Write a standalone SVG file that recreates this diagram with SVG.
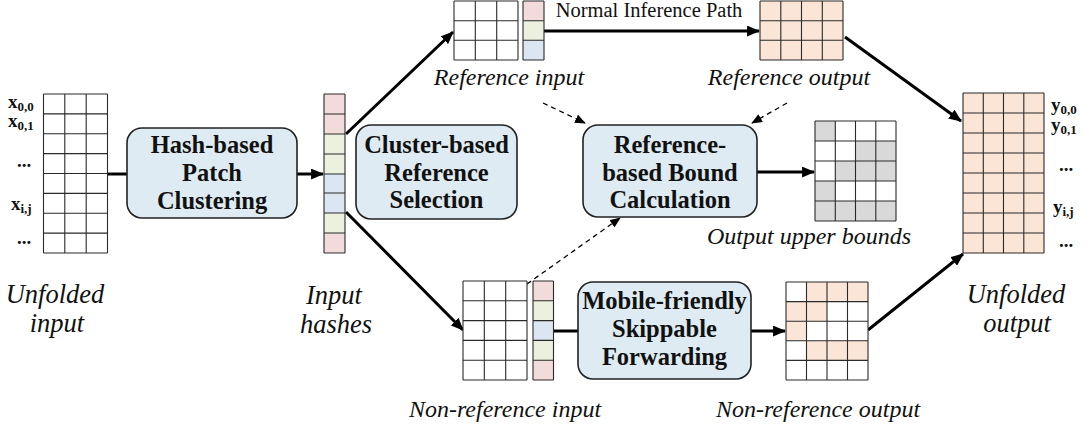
<svg xmlns="http://www.w3.org/2000/svg" width="1085" height="425" viewBox="0 0 1085 425">
  <style>
    text { font-family: "Liberation Serif", "Times New Roman", serif; fill: #111; }
    .box { fill: #deebf2; stroke: #222; stroke-width: 1.6; }
    .btxt { font-size: 24.5px; font-weight: bold; text-anchor: middle; }
    .cap { font-size: 24px; font-style: italic; text-anchor: middle; }
    .big { font-size: 26.5px; }
    .lbl { font-size: 19px; font-weight: bold; }
    .sub { font-size: 13px; }
    .grid { fill: none; stroke: #2a2a2a; stroke-width: 1.1; }
    .bg { fill: #ffffff; }
    .pink { fill: #f2dcdb; }
    .green { fill: #ebf1de; }
    .blue { fill: #dce6f2; }
    .peach { fill: #fbe5d6; }
    .gray { fill: #d9d9d9; }
    .thick { fill: none; stroke: #000; stroke-width: 3; }
    .dash { fill: none; stroke: #000; stroke-width: 1.3; stroke-dasharray: 5 4; }
  </style>
  <defs>
    <marker id="arr" viewBox="0 0 12 10" refX="11" refY="5" markerWidth="13" markerHeight="11" markerUnits="userSpaceOnUse" orient="auto">
      <path d="M0,0 L12,5 L0,10 z" fill="#000"/>
    </marker>
    <marker id="arrs" viewBox="0 0 12 10" refX="11" refY="5" markerWidth="11" markerHeight="9" markerUnits="userSpaceOnUse" orient="auto">
      <path d="M0,0 L12,5 L0,10 z" fill="#000"/>
    </marker>
  </defs>

  <!-- connectors -->
  <g id="connectors">
    <line class="thick" x1="107" y1="174" x2="127" y2="174"/>
    <line class="thick" x1="297" y1="174" x2="323" y2="174" marker-end="url(#arr)"/>
    <line class="thick" x1="346" y1="134" x2="453" y2="32" marker-end="url(#arr)"/>
    <line class="thick" x1="346" y1="212" x2="463" y2="330" marker-end="url(#arr)"/>
    <line class="thick" x1="544" y1="31" x2="759" y2="31" marker-end="url(#arr)"/>
    <line class="thick" x1="757" y1="172" x2="814" y2="172" marker-end="url(#arr)"/>
    <line class="thick" x1="553" y1="331" x2="578" y2="331"/>
    <line class="thick" x1="751" y1="331" x2="785" y2="331" marker-end="url(#arr)"/>
    <line class="thick" x1="845" y1="37" x2="961" y2="121" marker-end="url(#arr)"/>
    <line class="thick" x1="868" y1="330" x2="963" y2="254" marker-end="url(#arr)"/>
    <line class="dash" x1="543" y1="103" x2="585" y2="123" marker-end="url(#arrs)"/>
    <line class="dash" x1="787" y1="103" x2="752" y2="123" marker-end="url(#arrs)"/>
    <line class="dash" x1="527" y1="284" x2="620" y2="218" marker-end="url(#arrs)"/>
  </g>

  <!-- unfolded input -->
  <g id="unfolded-input">
    <rect class="bg" x="43.5" y="94" width="64" height="159"/>
    <path class="grid" d="M43.5,94V253M64.8,94V253M86.2,94V253M107.5,94V253M43.5,94H107.5M43.5,113.9H107.5M43.5,133.8H107.5M43.5,153.6H107.5M43.5,173.5H107.5M43.5,193.4H107.5M43.5,213.3H107.5M43.5,233.1H107.5M43.5,253H107.5"/>
    <text class="lbl" x="8" y="108">x<tspan class="sub" dy="3">0,0</tspan></text>
    <text class="lbl" x="8" y="127">x<tspan class="sub" dy="3">0,1</tspan></text>
    <text class="lbl" x="17" y="167">...</text>
    <text class="lbl" x="11" y="210">x<tspan class="sub" dy="3">i,j</tspan></text>
    <text class="lbl" x="17" y="244">...</text>
    <text class="cap big" x="55" y="303">Unfolded</text>
    <text class="cap big" x="57" y="332">input</text>
  </g>

  <!-- hash-based clustering -->
  <g id="hash-clustering">
    <rect class="box" x="127" y="128" width="170" height="90" rx="15"/>
    <text class="btxt" x="212" y="153">Hash-based</text>
    <text class="btxt" x="212" y="181">Patch</text>
    <text class="btxt" x="212" y="209">Clustering</text>
  </g>

  <!-- input hashes -->
  <g id="input-hashes">
    <rect class="pink" x="324" y="94" width="21" height="20"/>
    <rect class="pink" x="324" y="114" width="21" height="20"/>
    <rect class="green" x="324" y="134" width="21" height="20"/>
    <rect class="green" x="324" y="154" width="21" height="20"/>
    <rect class="blue" x="324" y="174" width="21" height="19"/>
    <rect class="blue" x="324" y="193" width="21" height="20"/>
    <rect class="green" x="324" y="213" width="21" height="20"/>
    <rect class="pink" x="324" y="233" width="21" height="20"/>
    <path class="grid" d="M324,94V253M345,94V253M324,94H345M324,114H345M324,134H345M324,154H345M324,174H345M324,193H345M324,213H345M324,233H345M324,253H345"/>
    <text class="cap big" x="334" y="304">Input</text>
    <text class="cap big" x="336" y="333">hashes</text>
  </g>

  <!-- cluster-based reference selection -->
  <g id="reference-selection">
    <rect class="box" x="356" y="125" width="161" height="94" rx="15"/>
    <text class="btxt" x="436.5" y="153">Cluster-based</text>
    <text class="btxt" x="436.5" y="181">Reference</text>
    <text class="btxt" x="436.5" y="208">Selection</text>
  </g>

  <!-- reference input -->
  <g id="reference-input">
    <rect class="bg" x="454" y="1" width="64" height="59"/>
    <path class="grid" d="M454,1V60M475.3,1V60M496.7,1V60M518,1V60M454,1H518M454,20.7H518M454,40.3H518M454,60H518"/>
    <rect class="pink" x="523" y="1" width="21" height="19.7"/>
    <rect class="green" x="523" y="20.7" width="21" height="19.6"/>
    <rect class="blue" x="523" y="40.3" width="21" height="19.7"/>
    <path class="grid" d="M523,1V60M544,1V60M523,1H544M523,20.7H544M523,40.3H544M523,60H544"/>
    <text class="cap" x="509" y="85">Reference input</text>
    <text x="649" y="17" font-size="20.5" text-anchor="middle">Normal Inference Path</text>
  </g>

  <!-- reference output -->
  <g id="reference-output">
    <rect class="peach" x="760" y="1" width="83" height="59"/>
    <path class="grid" d="M760,1V60M780.8,1V60M801.5,1V60M822.3,1V60M843,1V60M760,1H843M760,20.7H843M760,40.3H843M760,60H843"/>
    <text class="cap" x="789" y="85">Reference output</text>
  </g>

  <!-- reference-based bound calculation -->
  <g id="bound-calculation">
    <rect class="box" x="583" y="125" width="174" height="92" rx="15"/>
    <text class="btxt" x="670" y="153">Reference-</text>
    <text class="btxt" x="670" y="181">based Bound</text>
    <text class="btxt" x="670" y="208">Calculation</text>
  </g>

  <!-- output upper bounds -->
  <g id="upper-bounds">
    <rect class="bg" x="815" y="121" width="81" height="100"/>
    <rect class="gray" x="815" y="121" width="20.25" height="20"/>
    <rect class="gray" x="855.5" y="141" width="40.5" height="20"/>
    <rect class="gray" x="835.25" y="161" width="60.75" height="20"/>
    <rect class="gray" x="815" y="181" width="20.25" height="20"/>
    <rect class="gray" x="815" y="201" width="81" height="20"/>
    <path class="grid" d="M815,121V221M835.3,121V221M855.5,121V221M875.8,121V221M896,121V221M815,121H896M815,141H896M815,161H896M815,181H896M815,201H896M815,221H896"/>
    <text class="cap" x="809" y="244">Output upper bounds</text>
  </g>

  <!-- non-reference input -->
  <g id="non-reference-input">
    <rect class="bg" x="463" y="281" width="64" height="99"/>
    <path class="grid" d="M463,281V380M484.3,281V380M505.7,281V380M527,281V380M463,281H527M463,300.8H527M463,320.6H527M463,340.4H527M463,360.2H527M463,380H527"/>
    <rect class="pink" x="533" y="281" width="20.5" height="19.8"/>
    <rect class="green" x="533" y="300.8" width="20.5" height="19.8"/>
    <rect class="blue" x="533" y="320.6" width="20.5" height="19.8"/>
    <rect class="green" x="533" y="340.4" width="20.5" height="19.8"/>
    <rect class="pink" x="533" y="360.2" width="20.5" height="19.8"/>
    <path class="grid" d="M533,281V380M553.5,281V380M533,281H553.5M533,300.8H553.5M533,320.6H553.5M533,340.4H553.5M533,360.2H553.5M533,380H553.5"/>
    <text class="cap" x="505" y="417">Non-reference input</text>
  </g>

  <!-- mobile-friendly skippable forwarding -->
  <g id="skippable-forwarding">
    <rect class="box" x="578" y="282" width="173" height="97" rx="15"/>
    <text class="btxt" x="664.5" y="309">Mobile-friendly</text>
    <text class="btxt" x="664.5" y="337">Skippable</text>
    <text class="btxt" x="664.5" y="365">Forwarding</text>
  </g>

  <!-- non-reference output -->
  <g id="non-reference-output">
    <rect class="bg" x="786" y="282" width="82" height="98"/>
    <rect class="peach" x="806.5" y="282" width="61.5" height="19.6"/>
    <rect class="peach" x="786" y="301.6" width="41" height="19.6"/>
    <rect class="peach" x="786" y="321.2" width="20.5" height="19.6"/>
    <rect class="peach" x="806.5" y="340.8" width="61.5" height="19.6"/>
    <path class="grid" d="M786,282V380M806.5,282V380M827,282V380M847.5,282V380M868,282V380M786,282H868M786,301.6H868M786,321.2H868M786,340.8H868M786,360.4H868M786,380H868"/>
    <text class="cap" x="818" y="417">Non-reference output</text>
  </g>

  <!-- unfolded output -->
  <g id="unfolded-output">
    <rect class="peach" x="963" y="93" width="81" height="160"/>
    <path class="grid" d="M963,93V253M983.3,93V253M1003.5,93V253M1023.8,93V253M1044,93V253M963,93H1044M963,113H1044M963,133H1044M963,153H1044M963,173H1044M963,193H1044M963,213H1044M963,233H1044M963,253H1044"/>
    <text class="lbl" x="1051" y="111">y<tspan class="sub" dy="3">0,0</tspan></text>
    <text class="lbl" x="1051" y="131">y<tspan class="sub" dy="3">0,1</tspan></text>
    <text class="lbl" x="1059" y="171">...</text>
    <text class="lbl" x="1053" y="213">y<tspan class="sub" dy="3">i,j</tspan></text>
    <text class="lbl" x="1059" y="247">...</text>
    <text class="cap big" x="1016" y="303">Unfolded</text>
    <text class="cap big" x="1017" y="332">output</text>
  </g>
</svg>
